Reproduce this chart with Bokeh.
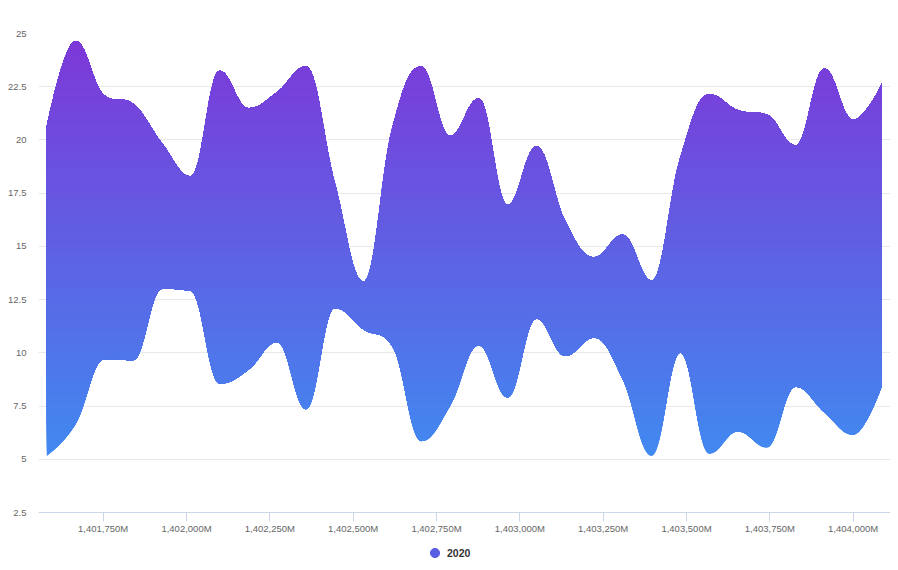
import numpy as np
import pandas as pd
from bokeh.plotting import figure
from bokeh.layouts import column
from bokeh.models import Range1d, FixedTicker, Legend, LegendItem
from bokeh.embed import file_html
from bokeh.resources import INLINE

# ---------------- data ----------------
series_name = "2020"
dates = ["2014-06-01", "2014-06-02", "2014-06-03", "2014-06-04", "2014-06-05",
         "2014-06-06", "2014-06-07", "2014-06-08", "2014-06-09", "2014-06-10",
         "2014-06-11", "2014-06-12", "2014-06-13", "2014-06-14", "2014-06-15",
         "2014-06-16", "2014-06-17", "2014-06-18", "2014-06-19", "2014-06-20",
         "2014-06-21", "2014-06-22", "2014-06-23", "2014-06-24", "2014-06-25",
         "2014-06-26", "2014-06-27", "2014-06-28", "2014-06-29", "2014-06-30"]
high = [20.65, 24.65, 22.1, 21.7, 19.85, 18.3, 23.25, 21.5, 22.25, 23.45,
        18.0, 13.35, 20.6, 23.45, 20.2, 21.95, 16.95, 19.7, 16.2, 14.5,
        15.55, 13.4, 19.2, 22.15, 21.4, 21.2, 19.75, 23.35, 20.95, 22.65]
low = [5.15, 6.65, 9.7, 9.65, 13.0, 12.9, 8.55, 9.2, 10.5, 7.35,
       12.1, 11.1, 10.3, 5.85, 7.5, 10.35, 7.9, 11.6, 9.85, 10.7,
       8.75, 5.15, 10.0, 5.25, 6.3, 5.55, 8.4, 7.2, 6.15, 8.45]
x_ticks = [1401750, 1402000, 1402250, 1402500, 1402750,
           1403000, 1403250, 1403500, 1403750, 1404000]
x_tick_labels = ["1,401,750M", "1,402,000M", "1,402,250M", "1,402,500M", "1,402,750M",
                 "1,403,000M", "1,403,250M", "1,403,500M", "1,403,750M", "1,404,000M"]
y_ticks = [2.5, 5, 7.5, 10, 12.5, 15, 17.5, 20, 22.5, 25]
y_tick_labels = ["2.5", "5", "7.5", "10", "12.5", "15", "17.5", "20", "22.5", "25"]

# x in millions of milliseconds (epoch)
x_m = (pd.to_datetime(dates).astype("int64") / 1e12).to_numpy(dtype=float)


def spline_path(xs, ys, smoothing=1.5, samples=24):
    """Highcharts-style spline (cubic Bezier through the points)."""
    n = len(xs)
    denom = smoothing + 1
    lc = [None] * n
    rc = [None] * n
    for i in range(1, n - 1):
        px, py = xs[i], ys[i]
        lx, ly = xs[i - 1], ys[i - 1]
        nx, ny = xs[i + 1], ys[i + 1]
        lcx = (smoothing * px + lx) / denom
        lcy = (smoothing * py + ly) / denom
        rcx = (smoothing * px + nx) / denom
        rcy = (smoothing * py + ny) / denom
        if rcx != lcx:
            corr = ((rcy - lcy) * (rcx - px)) / (rcx - lcx) + py - rcy
            lcy += corr
            rcy += corr
        if lcy > ly and lcy > py:
            lcy = max(ly, py)
            rcy = 2 * py - lcy
        elif lcy < ly and lcy < py:
            lcy = min(ly, py)
            rcy = 2 * py - lcy
        if rcy > ny and rcy > py:
            rcy = max(ny, py)
            lcy = 2 * py - rcy
        elif rcy < ny and rcy < py:
            rcy = min(ny, py)
            lcy = 2 * py - rcy
        lc[i] = (lcx, lcy)
        rc[i] = (rcx, rcy)
    outx, outy = [xs[0]], [ys[0]]
    t = np.linspace(0, 1, samples + 1)[1:]
    for i in range(1, n):
        p0 = (xs[i - 1], ys[i - 1])
        p3 = (xs[i], ys[i])
        p1 = rc[i - 1] if rc[i - 1] is not None else p0
        p2 = lc[i] if lc[i] is not None else p3
        bx = ((1 - t) ** 3) * p0[0] + 3 * ((1 - t) ** 2) * t * p1[0] + 3 * (1 - t) * t ** 2 * p2[0] + t ** 3 * p3[0]
        by = ((1 - t) ** 3) * p0[1] + 3 * ((1 - t) ** 2) * t * p1[1] + 3 * (1 - t) * t ** 2 * p2[1] + t ** 3 * p3[1]
        outx.extend(bx.tolist())
        outy.extend(by.tolist())
    return np.array(outx), np.array(outy)


xs_s, hi_s = spline_path(x_m, high)
_, lo_s = spline_path(x_m, low)

# ---------------- main figure ----------------
p = figure(width=890, height=536, output_backend="svg", toolbar_location=None,
           x_range=Range1d(1401556, 1404112), y_range=Range1d(2.5, 25),
           min_border_left=38, min_border_right=0, min_border_top=33,
           min_border_bottom=23)
p.outline_line_color = None
p.background_fill_color = "white"
p.border_fill_color = "white"

# vertical gradient fill built from stacked bands
top_col = np.array([0x7d, 0x38, 0xd8], dtype=float)
bot_col = np.array([0x41, 0x89, 0xf0], dtype=float)
ymin, ymax = float(np.min(lo_s)), float(np.max(hi_s))
nb = 90
for k in range(nb):
    a = ymin + (ymax - ymin) * k / nb
    frac = (k + 0.5) / nb
    c = bot_col + (top_col - bot_col) * frac
    col = "#%02x%02x%02x" % tuple(int(round(v)) for v in c)
    if k == 0:
        y1, y2 = lo_s, hi_s
    else:
        y1, y2 = np.maximum(lo_s, a), np.maximum(hi_s, a)
    p.varea(x=xs_s, y1=y1, y2=y2, fill_color=col, fill_alpha=1.0)

# axes
font = "Liberation Sans"
p.xaxis.ticker = FixedTicker(ticks=x_ticks)
p.xaxis.major_label_overrides = {t: l for t, l in zip(x_ticks, x_tick_labels)}
p.xaxis.axis_line_color = "#ccd6eb"
p.xaxis.major_tick_line_color = "#ccd6eb"
p.xaxis.major_tick_out = 9
p.xaxis.major_tick_in = 0
p.xaxis.minor_tick_line_color = None
p.xaxis.major_label_standoff = 1
p.xaxis.major_label_text_font = font
p.xaxis.major_label_text_font_size = "9.5px"
p.xaxis.major_label_text_color = "#666666"

p.yaxis.ticker = FixedTicker(ticks=y_ticks)
p.yaxis.major_label_overrides = {t: l for t, l in zip(y_ticks, y_tick_labels)}
p.yaxis.axis_line_color = None
p.yaxis.major_tick_line_color = None
p.yaxis.minor_tick_line_color = None
p.yaxis.major_tick_out = 0
p.yaxis.major_tick_in = 0
p.yaxis.major_label_standoff = 12
p.yaxis.major_label_text_font = font
p.yaxis.major_label_text_font_size = "9.5px"
p.yaxis.major_label_text_color = "#666666"

p.xgrid.visible = False
p.ygrid.ticker = FixedTicker(ticks=y_ticks[1:-1])
p.ygrid.grid_line_color = "#e9e9e9"
p.ygrid.grid_line_width = 1

# ---------------- legend strip ----------------
pl = figure(width=890, height=34, output_backend="svg", toolbar_location=None,
            x_range=Range1d(0, 1), y_range=Range1d(0, 1),
            x_axis_location=None, y_axis_location=None,
            min_border_left=0, min_border_right=0, min_border_top=0, min_border_bottom=0)
pl.outline_line_color = None
pl.xgrid.visible = False
pl.ygrid.visible = False
pl.background_fill_color = "white"
pl.border_fill_color = "white"
dummy = pl.scatter(x=[5], y=[5], size=9, fill_color="#5a5ee3", line_color="#5a5ee3")
legend = Legend(items=[LegendItem(label=series_name, renderers=[dummy])],
                location=(385, 6), glyph_width=23, glyph_height=23,
                padding=0, margin=0, spacing=0, label_standoff=1,
                label_text_font=font, label_text_font_size="10.5px",
                label_text_font_style="bold", label_text_color="#333333",
                background_fill_alpha=0, border_line_alpha=0)
pl.add_layout(legend, "center")

layout = column(p, pl, spacing=0)
open("out.html", "w").write(file_html(layout, INLINE))
